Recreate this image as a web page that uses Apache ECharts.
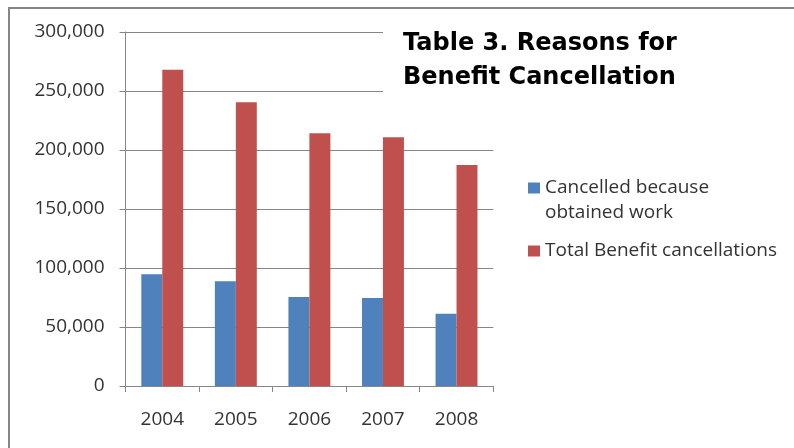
<!DOCTYPE html>
<html><head><meta charset="utf-8">
<script src="https://cdn.jsdelivr.net/npm/echarts@6/dist/echarts.min.js"></script>
<style>html,body{margin:0;padding:0;background:#fff}#c{width:794px;height:448px}</style>
</head><body><div id="c"></div>
<script>
const years = ['2004','2005','2006','2007','2008'];
const obtainedWork = [94600, 88700, 75400, 74600, 61300];
const totalCancellations = [268000, 240400, 214100, 210700, 187300];
const seriesNames = ['Cancelled because\nobtained work', 'Total Benefit cancellations'];
const titleText = 'Table 3. Reasons for\nBenefit Cancellation';

const chart = echarts.init(document.getElementById('c'), null, {renderer:'canvas'});
const labelFont = {fontFamily:'Open Sans', fontSize:19, color:'#333'};
chart.setOption({
  animation:false,
  backgroundColor:'#fff',
  graphic:[{type:'rect', shape:{x:9,y:8,width:900,height:500}, style:{fill:'none', stroke:'#868686', lineWidth:2}, z:-1}],
  title:{
    text:titleText, left:383, top:19, backgroundColor:'#fff', padding:[8,20,8,20],
    textStyle:{fontFamily:'DejaVu Sans', fontWeight:'bold', fontSize:24, lineHeight:34, color:'#000'}
  },
  legend:{
    orient:'vertical', left:523, top:170.5, itemWidth:12, itemHeight:36, itemGap:7.5,
    textStyle:{fontFamily:'Open Sans', fontSize:19, color:'#333', lineHeight:25},
    data:[
      {name:seriesNames[0], icon:'path://M0,0H12V11H0Z M0,36'},
      {name:seriesNames[1], icon:'path://M0,12.5H12V23.5H0Z M0,0 M0,36'}
    ]
  },
  grid:{left:125.5, right:300.7, top:32, bottom:62, containLabel:false},
  xAxis:{
    type:'category', data:years,
    axisLine:{lineStyle:{color:'#868686'}},
    axisTick:{show:true, length:6, lineStyle:{color:'#868686'}},
    axisLabel:Object.assign({margin:24}, labelFont)
  },
  yAxis:{
    type:'value', min:0, max:300000, interval:50000,
    axisLine:{show:true, lineStyle:{color:'#868686'}},
    axisTick:{show:true, length:6, lineStyle:{color:'#868686'}},
    splitLine:{lineStyle:{color:'#868686'}},
    axisLabel:Object.assign({margin:21, formatter:v=>v.toLocaleString('en-US')}, labelFont)
  },
  series:[
    {name:seriesNames[0], type:'bar', data:obtainedWork, barGap:'0%', barCategoryGap:'43%', itemStyle:{color:'#4F81BD'}},
    {name:seriesNames[1], type:'bar', data:totalCancellations, itemStyle:{color:'#C0504D'}}
  ]
});
</script></body></html>
